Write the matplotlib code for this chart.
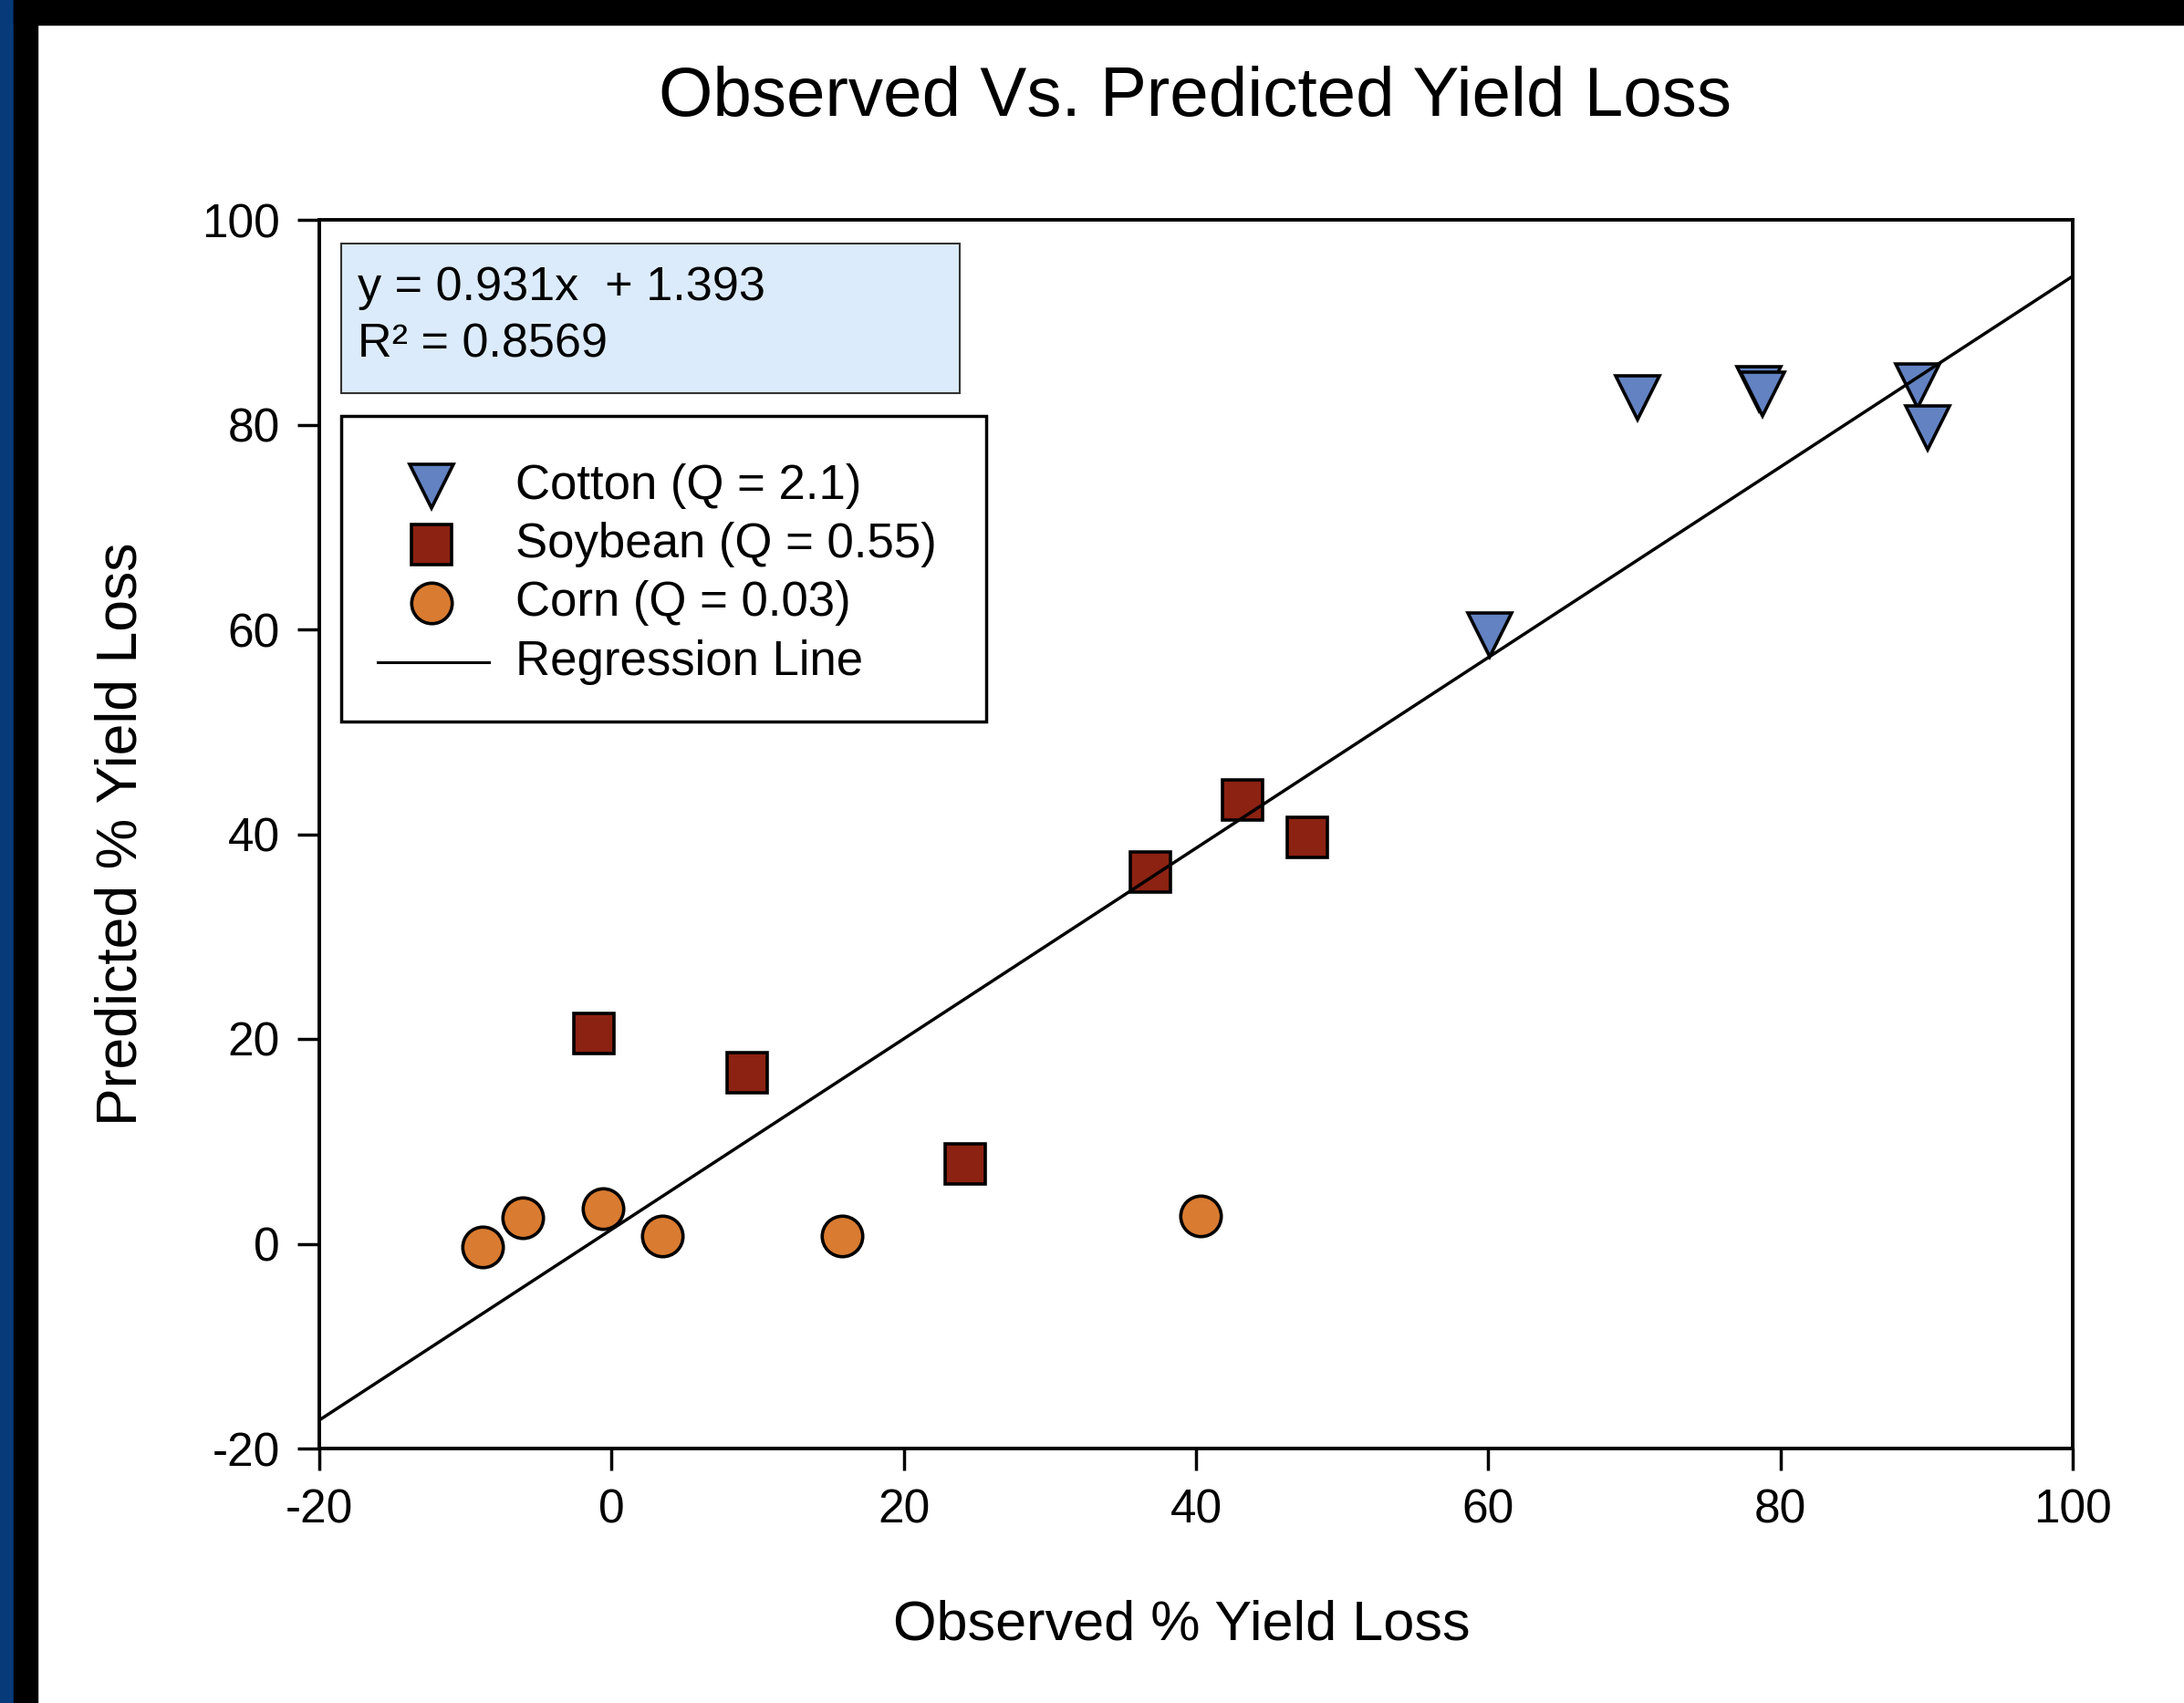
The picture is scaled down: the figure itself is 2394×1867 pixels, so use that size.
import matplotlib
matplotlib.use("Agg")
import matplotlib.pyplot as plt
import matplotlib.patches as mpatches
from matplotlib.lines import Line2D

plt.rcParams['font.family'] = ['Liberation Sans', 'DejaVu Sans']
plt.rcParams['axes.unicode_minus'] = False

# ---- data ----
cotton_x = [70.2, 78.5, 78.8, 89.4, 90.1, 60.1]
cotton_y = [82.6, 83.5, 83.0, 83.8, 79.7, 59.5]
soy_x = [-1.2, 9.3, 24.2, 36.9, 43.2, 47.6]
soy_y = [20.5, 16.7, 7.8, 36.3, 43.3, 39.7]
corn_x = [-8.8, -6.1, -0.6, 3.5, 15.8, 40.3]
corn_y = [-0.3, 2.5, 3.4, 0.8, 0.8, 2.7]
slope = 0.931
intercept = 1.393
r2 = 0.8569
line_x = [-20, 100]
x_ticks = [-20, 0, 20, 40, 60, 80, 100]
y_ticks = [-20, 0, 20, 40, 60, 80, 100]
labels = ["Cotton (Q = 2.1)", "Soybean (Q = 0.55)", "Corn (Q = 0.03)", "Regression Line"]

W, H = 2394, 1867
fig = plt.figure(figsize=(W / 100, H / 100), dpi=100)
fig.patch.set_facecolor('white')

# frame strips (blue left edge, black band)
fig.patches.append(mpatches.Rectangle((0, 0), 15 / W, 1, transform=fig.transFigure,
                                      color='#063a78', zorder=0))
fig.patches.append(mpatches.Rectangle((15 / W, 0), 26 / W, 1, transform=fig.transFigure,
                                      color='black', zorder=0))
fig.patches.append(mpatches.Rectangle((15 / W, 1 - 27 / H), 1, 27 / H, transform=fig.transFigure,
                                      color='black', zorder=0))

ax = fig.add_axes([350 / W, 1 - 1588 / H, (2272 - 350) / W, (1588 - 241) / H])
ax.set_xlim(-20, 100)
ax.set_ylim(-20, 100)
ax.set_xticks(x_ticks)
ax.set_yticks(y_ticks)
ax.tick_params(axis='both', direction='out', length=17, width=2.5, labelsize=37, pad=14, colors='black')
for s in ax.spines.values():
    s.set_linewidth(2.8)

c_cotton = '#6282c2'
c_soy = '#8c2212'
c_corn = '#d97b30'
ew = 2.6

ax.plot(cotton_x, cotton_y, linestyle='none', marker='v', ms=35, mfc=c_cotton, mec='black', mew=ew, zorder=3)
ax.plot(soy_x, soy_y, linestyle='none', marker='s', ms=31, mfc=c_soy, mec='black', mew=ew, zorder=3)
ax.plot(corn_x, corn_y, linestyle='none', marker='o', ms=32, mfc=c_corn, mec='black', mew=ew, zorder=3)
ly = [slope * v + intercept for v in line_x]
ax.plot(line_x, ly, color='black', lw=2.5, zorder=4)

ax.set_xlabel("Observed % Yield Loss", fontsize=44, labelpad=50)
ax.xaxis.set_label_coords(0.492, -0.123)
ax.set_ylabel("Predicted % Yield Loss", fontsize=45, labelpad=42)
fig.text(1310 / W, 1 - 107 / H, "Observed Vs. Predicted Yield Loss", fontsize=55,
         ha='center', va='center')

# equation box
fig.patches.append(mpatches.Rectangle((374 / W, 1 - 431 / H), (1052 - 374) / W, (431 - 267) / H,
                                      transform=fig.transFigure, facecolor='#dcebfb',
                                      edgecolor='#333333', lw=1.5, zorder=5))
fig.text(392 / W, 1 - 315 / H, f"y = {slope}x  + {intercept}", fontsize=37.5, ha='left', va='center', zorder=6)
fig.text(392 / W, 1 - 378 / H, f"R² = {r2}", fontsize=37.5, ha='left', va='center', zorder=6)

# legend box
fig.patches.append(mpatches.Rectangle((374 / W, 1 - 791 / H), (1081 - 374) / W, (791 - 456) / H,
                                      transform=fig.transFigure, facecolor='white',
                                      edgecolor='black', lw=2.5, zorder=5))
rows = [533, 597, 661, 726]
mx = 473
handles = [
    dict(marker='v', ms=35, mfc=c_cotton),
    dict(marker='s', ms=31, mfc=c_soy),
    dict(marker='o', ms=32, mfc=c_corn),
]
for r, h in zip(rows[:3], handles):
    fig.add_artist(Line2D([mx / W], [1 - r / H], transform=fig.transFigure, linestyle='none',
                          mec='black', mew=ew, zorder=6, **h))
fig.add_artist(Line2D([414 / W, 536 / W], [1 - rows[3] / H] * 2, transform=fig.transFigure,
                      color='black', lw=2.2, zorder=6))
for r, t in zip(rows, labels):
    fig.text(565 / W, 1 - r / H, t, fontsize=38, ha='left', va='center', zorder=6)

fig.savefig("out.png", dpi=100, facecolor=fig.get_facecolor())
